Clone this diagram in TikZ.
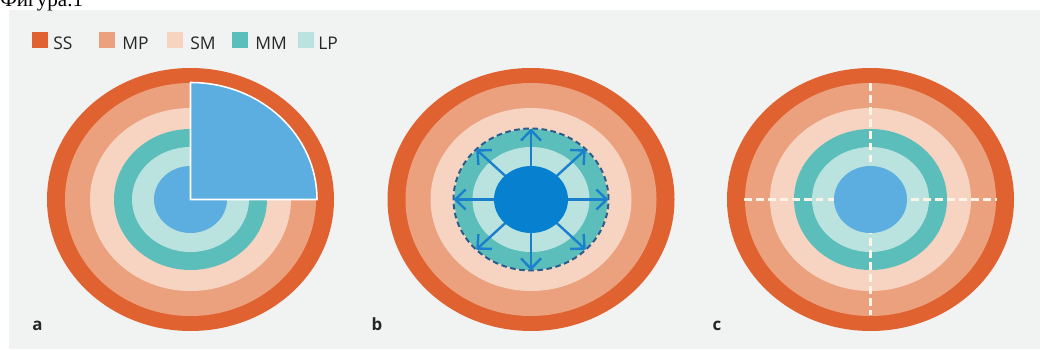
\documentclass[tikz,border=0pt]{standalone}
\usepackage{fontspec}
\setmainfont{Open Sans}
\newfontfamily\capfont{Liberation Serif}
\usetikzlibrary{arrows.meta,calc,positioning}
\definecolor{ssc}{RGB}{224,98,48}
\definecolor{mpc}{RGB}{235,161,126}
\definecolor{smc}{RGB}{247,212,194}
\definecolor{mmc}{RGB}{92,190,186}
\definecolor{lpc}{RGB}{186,227,223}
\definecolor{corec}{RGB}{92,174,225}
\definecolor{deepc}{RGB}{8,128,208}
\definecolor{spokec}{RGB}{26,128,206}
\definecolor{rimc}{RGB}{40,92,140}
\definecolor{paper}{RGB}{241,242,242}
\definecolor{crossc}{RGB}{252,244,230}
\tikzset{
  legbox/.style  = {inner sep=0pt, minimum width=4.2mm, minimum height=4mm},
  legtext/.style = {anchor=base west, inner sep=0pt, text=black!85,
                    font=\fontsize{12.4}{14}\selectfont},
  tag/.style     = {anchor=base, inner sep=0pt, text=black!85,
                    font=\bfseries\fontsize{12}{14}\selectfont},
  wedge/.style   = {fill=corec, draw=white, line width=1.1pt},
  rim/.style     = {draw=rimc, line width=1.4pt, dash pattern=on 4pt off 2.5pt},
  spoke/.style   = {-{Straight Barb[length=2.6mm,width=5mm]}, draw=spokec,
                    line width=1.7pt},
  cross/.style   = {draw=crossc, line width=1.8pt, dash pattern=on 5.5pt off 3pt},
}

\begin{document}
\begin{tikzpicture}[x=0.025cm,y=0.025cm]
  \useasboundingbox (0,0) rectangle (1040,349);
  \fill[paper] (9,0) rectangle (1040,339);
  \node[anchor=base west, inner sep=0pt, font=\capfont\fontsize{15}{17}\selectfont]
     (title) at (0,342.5) {Фигура.1};

  % legend
  \foreach \n/\c/\x/\t in {SS/ssc/32/53, MP/mpc/99/122, SM/smc/167/190,
                           MM/mmc/232/255, LP/lpc/298/318}
     {\node[legbox, fill=\c] (key-\n) at (\x+8,308.5) {};
      \node[legtext] (txt-\n) at (\t,299.5) {\n};}

  \coordinate (ac) at (190.5,149.5);
  \coordinate (bc) at (531,149.5);
  \coordinate (cc) at (870.5,149.5);

  % the five layers, same in every panel
  \foreach \p in {ac,bc,cc}
     {\foreach \c/\rx/\ry in {ssc/143.5/131.5, mpc/125.5/116.5, smc/100.5/91.5,
                              mmc/76.5/70.5, lpc/58.5/52.5}
        {\fill[\c] (\p) ellipse [x radius=\rx, y radius=\ry];}}

  % a
  \fill[corec] (ac) ellipse [x radius=36.5, y radius=33.5];
  \draw[wedge] (ac) -- ++(126.5,0) arc[start angle=0, end angle=90,
      x radius=126.5, y radius=117] -- cycle;

  % b
  \draw[rim] (bc) ellipse [x radius=77.5, y radius=71];
  \foreach \a in {0,45,...,315}
     {\path (bc) ++(\a:77.5 and 71) coordinate (tip-\a);
      \draw[spoke] (bc) -- (tip-\a);}
  \fill[deepc] (bc) ellipse [x radius=37, y radius=33.5];

  % c
  \path (cc) +(0,116.5) coordinate (c-n) +(0,-115.5) coordinate (c-s)
             +(-126.5,0) coordinate (c-w) +(126.5,0) coordinate (c-e);
  \draw[cross] (c-n) -- (c-s) (c-w) -- (c-e);
  \fill[corec] (cc) ellipse [x radius=36.5, y radius=33.5];

  \node[tag] (tag-a) at (37.5,19) {a};
  \node[tag] (tag-b) at (377,19) {b};
  \node[tag] (tag-c) at (717,19) {c};
\end{tikzpicture}
\end{document}
